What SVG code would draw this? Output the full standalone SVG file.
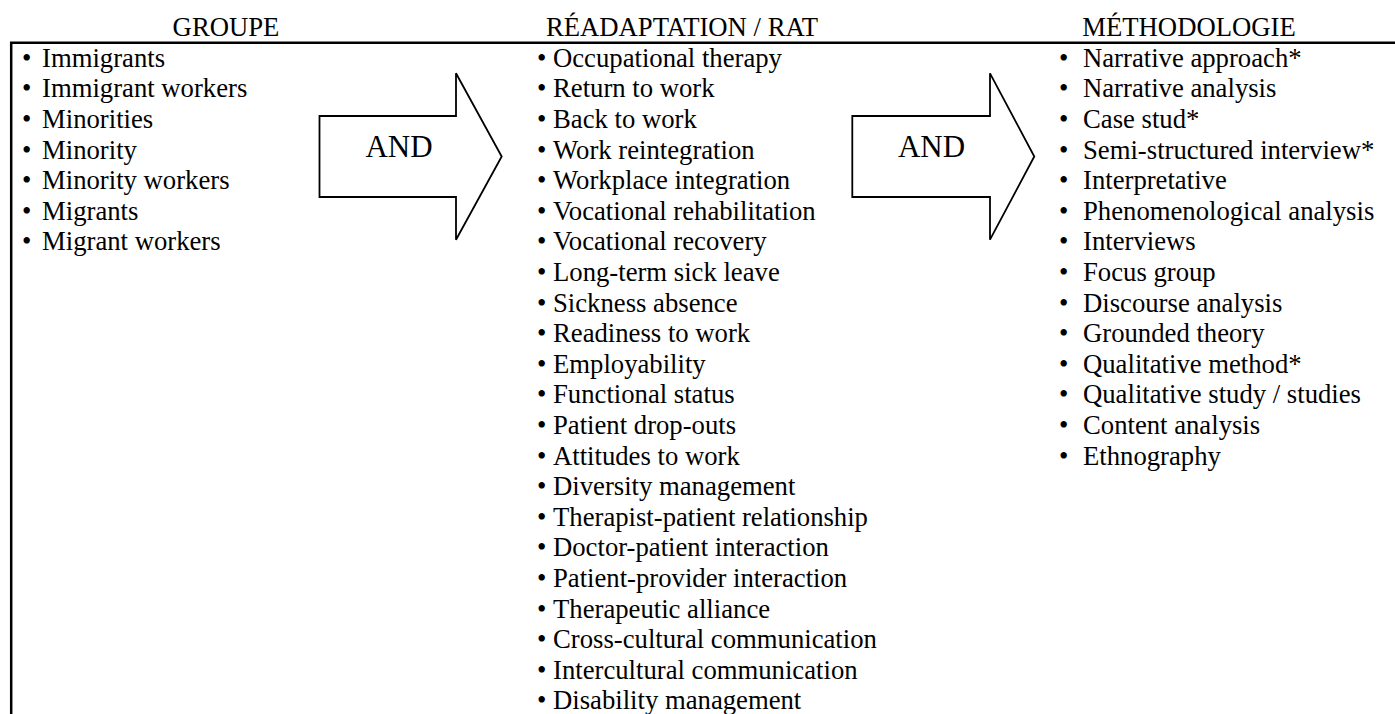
<svg xmlns="http://www.w3.org/2000/svg" width="1395" height="714" viewBox="0 0 1395 714">
<style>
text{font-family:"Liberation Serif","Times New Roman",serif;fill:#000}
.h{font-size:26.7px;text-anchor:middle}
.t{font-size:26.7px}
.and{font-size:31px;text-anchor:middle}
.arrow{fill:#fff;stroke:#000;stroke-width:1.8;stroke-linejoin:miter}
.rule{stroke:#000;stroke-width:2.5;fill:none}
</style>
<rect width="1395" height="714" fill="#fff"/>
<g id="frame">
<path class="rule" d="M10,42.7 H1395 M11.2,41.5 V714"/>
</g>
<g id="headers">
<text class="h" x="226" y="36">GROUPE</text>
<text class="h" x="682" y="36">RÉADAPTATION / RAT</text>
<text class="h" x="1189" y="36">MÉTHODOLOGIE</text>
</g>
<g id="connectors">
<g id="and1">
<polygon class="arrow" points="319.5,116 456,116 456,73.3 501.7,156.5 456,239.7 456,197 319.5,197"/>
<text class="and" x="399" y="156.5">AND</text>
</g>
<g id="and2">
<polygon class="arrow" points="852.3,116 990,116 990,73.3 1034.3,156.5 990,239.7 990,197 852.3,197"/>
<text class="and" x="931.5" y="156.5">AND</text>
</g>
</g>
<g id="groupe">
<text class="t" x="22" y="66.7">•</text><text class="t" x="42" y="66.7">Immigrants</text>
<text class="t" x="22" y="97.3">•</text><text class="t" x="42" y="97.3">Immigrant workers</text>
<text class="t" x="22" y="127.9">•</text><text class="t" x="42" y="127.9">Minorities</text>
<text class="t" x="22" y="158.5">•</text><text class="t" x="42" y="158.5">Minority</text>
<text class="t" x="22" y="189.1">•</text><text class="t" x="42" y="189.1">Minority workers</text>
<text class="t" x="22" y="219.7">•</text><text class="t" x="42" y="219.7">Migrants</text>
<text class="t" x="22" y="250.3">•</text><text class="t" x="42" y="250.3">Migrant workers</text>
</g>
<g id="readaptation">
<text class="t" x="537" y="66.7">•</text><text class="t" x="553" y="66.7">Occupational therapy</text>
<text class="t" x="537" y="97.3">•</text><text class="t" x="553" y="97.3">Return to work</text>
<text class="t" x="537" y="127.9">•</text><text class="t" x="553" y="127.9">Back to work</text>
<text class="t" x="537" y="158.5">•</text><text class="t" x="553" y="158.5">Work reintegration</text>
<text class="t" x="537" y="189.1">•</text><text class="t" x="553" y="189.1">Workplace integration</text>
<text class="t" x="537" y="219.7">•</text><text class="t" x="553" y="219.7">Vocational rehabilitation</text>
<text class="t" x="537" y="250.3">•</text><text class="t" x="553" y="250.3">Vocational recovery</text>
<text class="t" x="537" y="280.9">•</text><text class="t" x="553" y="280.9">Long-term sick leave</text>
<text class="t" x="537" y="311.5">•</text><text class="t" x="553" y="311.5">Sickness absence</text>
<text class="t" x="537" y="342.1">•</text><text class="t" x="553" y="342.1">Readiness to work</text>
<text class="t" x="537" y="372.7">•</text><text class="t" x="553" y="372.7">Employability</text>
<text class="t" x="537" y="403.3">•</text><text class="t" x="553" y="403.3">Functional status</text>
<text class="t" x="537" y="433.9">•</text><text class="t" x="553" y="433.9">Patient drop-outs</text>
<text class="t" x="537" y="464.5">•</text><text class="t" x="553" y="464.5">Attitudes to work</text>
<text class="t" x="537" y="495.1">•</text><text class="t" x="553" y="495.1">Diversity management</text>
<text class="t" x="537" y="525.7">•</text><text class="t" x="553" y="525.7">Therapist-patient relationship</text>
<text class="t" x="537" y="556.3">•</text><text class="t" x="553" y="556.3">Doctor-patient interaction</text>
<text class="t" x="537" y="586.9">•</text><text class="t" x="553" y="586.9">Patient-provider interaction</text>
<text class="t" x="537" y="617.5">•</text><text class="t" x="553" y="617.5">Therapeutic alliance</text>
<text class="t" x="537" y="648.1">•</text><text class="t" x="553" y="648.1">Cross-cultural communication</text>
<text class="t" x="537" y="678.7">•</text><text class="t" x="553" y="678.7">Intercultural communication</text>
<text class="t" x="537" y="709.3">•</text><text class="t" x="553" y="709.3">Disability management</text>
</g>
<g id="methodologie">
<text class="t" x="1059" y="66.7">•</text><text class="t" x="1083" y="66.7">Narrative approach*</text>
<text class="t" x="1059" y="97.3">•</text><text class="t" x="1083" y="97.3">Narrative analysis</text>
<text class="t" x="1059" y="127.9">•</text><text class="t" x="1083" y="127.9">Case stud*</text>
<text class="t" x="1059" y="158.5">•</text><text class="t" x="1083" y="158.5">Semi-structured interview*</text>
<text class="t" x="1059" y="189.1">•</text><text class="t" x="1083" y="189.1">Interpretative</text>
<text class="t" x="1059" y="219.7">•</text><text class="t" x="1083" y="219.7">Phenomenological analysis</text>
<text class="t" x="1059" y="250.3">•</text><text class="t" x="1083" y="250.3">Interviews</text>
<text class="t" x="1059" y="280.9">•</text><text class="t" x="1083" y="280.9">Focus group</text>
<text class="t" x="1059" y="311.5">•</text><text class="t" x="1083" y="311.5">Discourse analysis</text>
<text class="t" x="1059" y="342.1">•</text><text class="t" x="1083" y="342.1">Grounded theory</text>
<text class="t" x="1059" y="372.7">•</text><text class="t" x="1083" y="372.7">Qualitative method*</text>
<text class="t" x="1059" y="403.3">•</text><text class="t" x="1083" y="403.3">Qualitative study / studies</text>
<text class="t" x="1059" y="433.9">•</text><text class="t" x="1083" y="433.9">Content analysis</text>
<text class="t" x="1059" y="464.5">•</text><text class="t" x="1083" y="464.5">Ethnography</text>
</g>
</svg>
